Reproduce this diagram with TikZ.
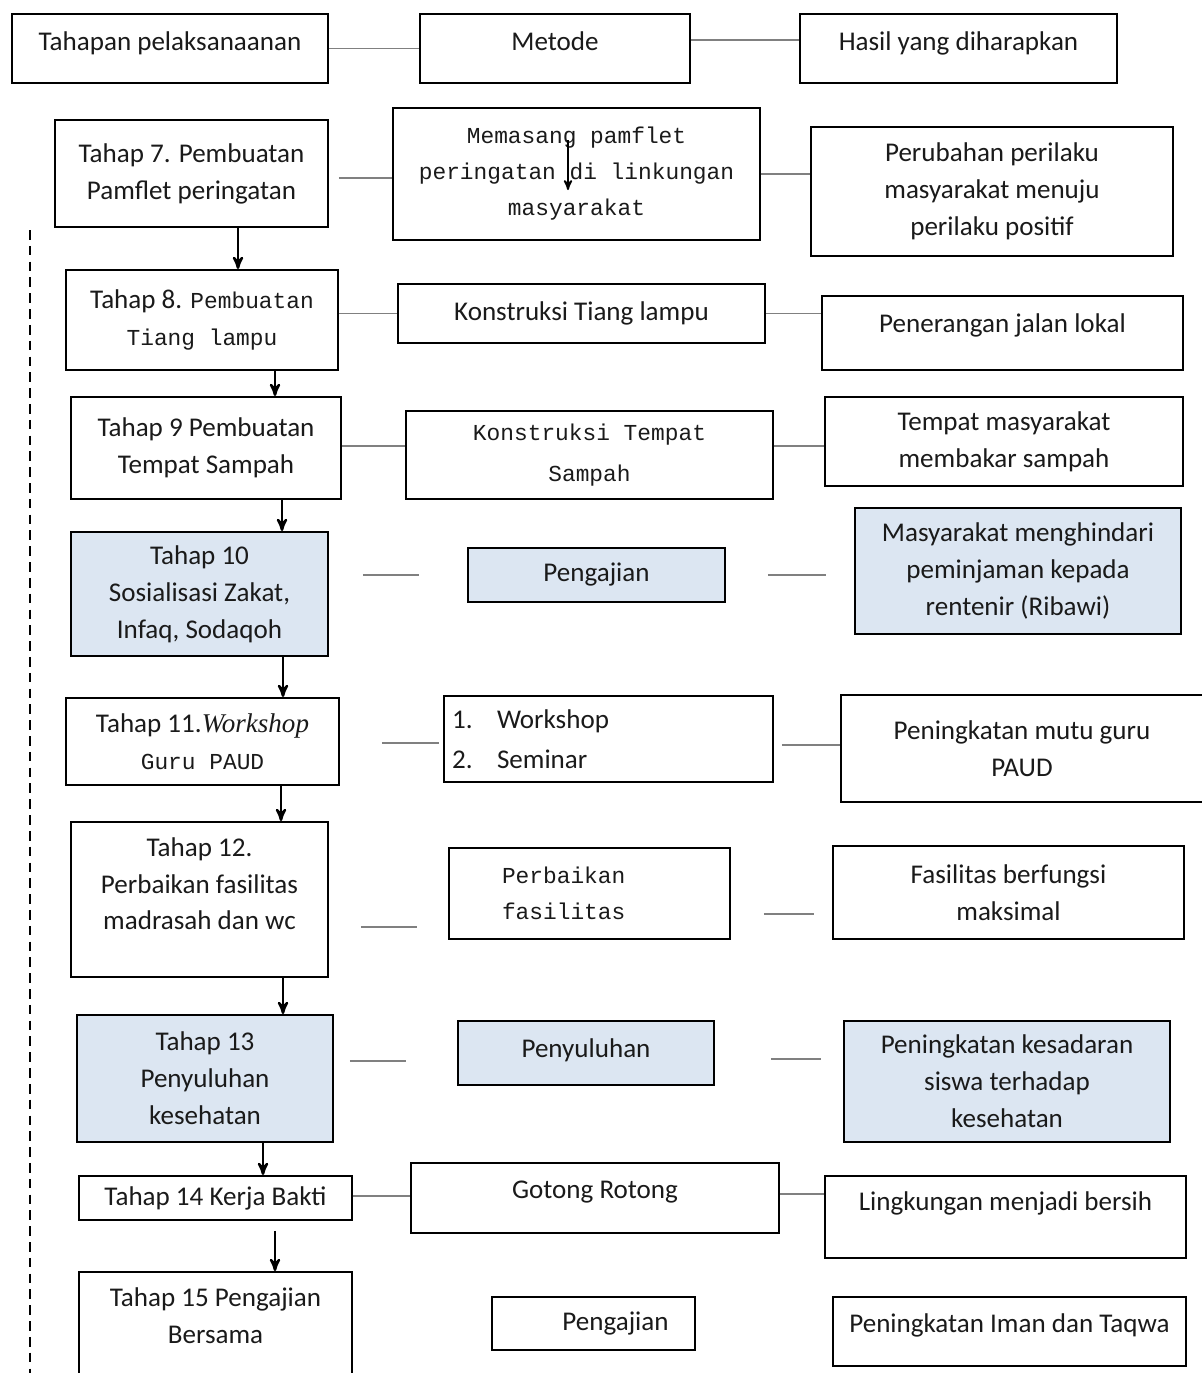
\documentclass[tikz,border=0pt]{standalone}
\usepackage{fontspec}
\setmainfont{Carlito}
\newfontfamily\monofont{Liberation Mono}
\newfontfamily\serifont{Liberation Serif}
\usepackage{tikz}
\usetikzlibrary{arrows}
\usetikzlibrary{positioning}
\usetikzlibrary{calc}
\definecolor{soft}{HTML}{DCE6F2}
\definecolor{ink}{HTML}{1A1A1A}
\newcommand{\mono}[1]{{\monofont\fontsize{13}{20.5}\selectfont #1}}
\tikzset{
  >=stealth',
  box/.style = {draw, line width=1.1pt, inner sep=2pt, align=center, text=ink,
                font=\fontsize{15.4}{21}\selectfont},
  tint/.style = {box, fill=soft},
  mono/.style = {font=\monofont\fontsize{13}{20.5}\selectfont},
  lift/.style = {text height=0.4cm, text depth=#1},
  link/.style = {draw=gray, line width=1pt},
  flow/.style = {->, line width=1.4pt},
}

\begin{document}
\begin{tikzpicture}[x=0.02cm, y=-0.02cm]
    \useasboundingbox (0,0) rectangle (1202,1373);
    % header
    \node [box, lift=0.34cm, minimum width=6.32cm, minimum height=1.38cm] (t0) at (170,48.5) {Tahapan pelaksanaanan};
    \node [box, lift=0.34cm, minimum width=5.40cm, minimum height=1.38cm] (m0) at (555,48.5) {Metode};
    \node [box, lift=0.34cm, minimum width=6.34cm, minimum height=1.38cm] (h0) at (958.5,48.5) {Hasil yang diharapkan};
    % tahap 7
    \node [box, minimum width=5.46cm, minimum height=2.14cm] (t7) at (191.5,173.5) {Tahap 7. Pembuatan\\Pamflet peringatan};
    \node [box, mono, minimum width=7.34cm, minimum height=2.64cm] (m7) at (576.5,174) {Memasang pamflet\\peringatan di linkungan\\masyarakat};
    \node [box, minimum width=7.24cm, minimum height=2.58cm] (h7) at (992,191.5) {Perubahan perilaku\\masyarakat menuju\\perilaku positif};
    % tahap 8
    \node [box, minimum width=5.44cm, minimum height=2.00cm] (t8) at (202,320) {Tahap 8. \mono{Pembuatan}\\\mono{Tiang lampu}};
    \node [box, minimum width=7.34cm, minimum height=1.18cm] (m8) at (581.5,313.5) {Konstruksi Tiang lampu};
    \node [box, lift=0.44cm, minimum width=7.22cm, minimum height=1.48cm] (h8) at (1002.5,333) {Penerangan jalan lokal};
    % tahap 9
    \node [box, minimum width=5.40cm, minimum height=2.04cm] (t9) at (206,448) {Tahap 9 Pembuatan\\Tempat Sampah};
    \node [box, mono, minimum width=7.34cm, minimum height=1.76cm] (m9) at (589.5,455) {Konstruksi Tempat\\[3pt]Sampah};
    \node [box, minimum width=7.16cm, minimum height=1.78cm] (h9) at (1004,441.5) {Tempat masyarakat\\membakar sampah};
    % tahap 10
    \node [tint, minimum width=5.14cm, minimum height=2.48cm] (t10) at (199.5,594) {Tahap 10\\Sosialisasi Zakat,\\Infaq, Sodaqoh};
    \node [tint, minimum width=5.14cm, minimum height=1.08cm] (m10) at (596.5,575) {Pengajian};
    \node [tint, minimum width=6.52cm, minimum height=2.52cm] (h10) at (1018,571) {Masyarakat menghindari\\peminjaman kepada\\rentenir (Ribawi)};
    % tahap 11
    \node [box, minimum width=5.46cm, minimum height=1.74cm] (t11) at (202.5,741.5) {Tahap 11.{\serifont\itshape Workshop}\\\mono{Guru PAUD}};
    \node [box, align=left, text width=6.26cm, minimum width=6.58cm, minimum height=1.72cm] (m11) at (608.5,739) {\makebox[0.9cm][l]{1.}Workshop\\[2pt]\makebox[0.9cm][l]{2.}Seminar};
    \node [box, minimum width=7.24cm, minimum height=2.14cm] (h11) at (1022,748.5) {Peningkatan mutu guru\\PAUD};
    % tahap 12
    \node [box, minimum width=5.14cm, minimum height=3.10cm] (t12) at (199.5,899.5) {Tahap 12.\\Perbaikan fasilitas\\madrasah dan wc\\[-3pt]~};
    \node [box, mono, align=left, text width=3.5cm, minimum width=5.62cm, minimum height=1.82cm] (m12) at (589.5,893.5) {Perbaikan\\fasilitas};
    \node [box, minimum width=7.02cm, minimum height=1.86cm] (h12) at (1008.5,892.5) {Fasilitas berfungsi\\maksimal};
    % tahap 13
    \node [tint, minimum width=5.12cm, minimum height=2.54cm] (t13) at (205,1078.5) {Tahap 13\\Penyuluhan\\kesehatan};
    \node [tint, lift=0.24cm, minimum width=5.12cm, minimum height=1.28cm] (m13) at (586,1053) {Penyuluhan};
    \node [tint, minimum width=6.52cm, minimum height=2.42cm] (h13) at (1007,1081.5) {Peningkatan kesadaran\\siswa terhadap\\kesehatan};
    % tahap 14
    \node [box, minimum width=5.46cm, minimum height=0.88cm] (t14) at (215.5,1198) {Tahap 14 Kerja Bakti};
    \node [box, lift=0.40cm, minimum width=7.36cm, minimum height=1.40cm] (m14) at (595,1198) {Gotong Rotong};
    \node [box, lift=0.68cm, minimum width=7.22cm, minimum height=1.64cm] (h14) at (1005.5,1217) {Lingkungan menjadi bersih};
    % tahap 15
    \node [box, minimum width=5.46cm, minimum height=2.36cm] (t15) at (215.5,1331) {Tahap 15 Pengajian\\Bersama\\[-3pt]~};
    \node [box, minimum width=4.06cm, minimum height=1.06cm] (m15) at (593.5,1323.5) {\hspace*{0.88cm}Pengajian};
    \node [box, lift=0.38cm, minimum width=7.06cm, minimum height=1.38cm] (h15) at (1009.5,1331.5) {Peningkatan Iman dan Taqwa};
    % garis penghubung
    \draw [link] (t0) -- (m0);
    \draw [link] ($(m0.east)+(0,-8.5)$) -- ($(m0.east -| h0.west)+(0,-8.5)$);
    \draw [link] ($(t7.east)+(10,4.5)$) -- ($(t7.east -| m7.west)+(0,4.5)$);
    \draw [link] (m7.east) -- (m7.east -| h7.west);
    \draw [link] (t8.east |- m8.west) -- (m8.west);
    \draw [link] (m8.east) -- (m8.east -| h8.west);
    \draw [link] ($(t9.east)+(0,-2)$) -- ($(t9.east -| m9.west)+(0,-2)$);
    \draw [link] ($(t9.east -| m9.east)+(0,-2)$) -- ($(t9.east -| h9.west)+(0,-2)$);
    \draw [link] ($(t10.east |- m10.west)+(34,0)$) -- ($(m10.west)+(-48,0)$);
    \draw [link] ($(m10.east)+(42,0)$) -- ($(m10.east -| h10.west)+(-28,0)$);
    \draw [link] ($(t11.east)+(42,1.5)$) -- ($(t11.east -| m11.west)+(-4,1.5)$);
    \draw [link] ($(m11.east |- t11.east)+(8,3.5)$) -- ($(t11.east -| h11.west)+(0,3.5)$);
    \draw [link] ($(t12.east)+(32,27.5)$) -- ($(t12.east -| m12.west)+(-31,27.5)$);
    \draw [link] ($(m12.east)+(33,20.5)$) -- ($(m12.east -| h12.west)+(-18,20.5)$);
    \draw [link] ($(t13.east)+(16,-17.5)$) -- ($(t13.east -| m13.west)+(-51,-17.5)$);
    \draw [link] ($(m13.east)+(56,6)$) -- ($(m13.east -| h13.west)+(-22,6)$);
    \draw [link] ($(t14.east)+(0,-2)$) -- ($(t14.east -| m14.west)+(0,-2)$);
    \draw [link] ($(m14.east)+(0,-4)$) -- ($(m14.east -| h14.west)+(0,-4)$);
    % panah tahap
    \draw [flow] ($(t7.south)+(46.5,0)$) -- ($(t8.north -| t7.south)+(46.5,0)$);
    \draw [flow] ($(t8.south)+(73,0)$) -- ($(t9.north -| t8.south)+(73,0)$);
    \draw [flow] ($(t9.south)+(76,0)$) -- ($(t10.north -| t9.south)+(76,0)$);
    \draw [flow] ($(t10.south)+(83.5,0)$) -- ($(t11.north -| t10.south)+(83.5,0)$);
    \draw [flow] ($(t11.south)+(78.5,0)$) -- ($(t12.north -| t11.south)+(78.5,0)$);
    \draw [flow] ($(t12.south)+(83.5,0)$) -- ($(t13.north -| t12.south)+(83.5,0)$);
    \draw [flow] ($(t13.south)+(58,0)$) -- ($(t14.north -| t13.south)+(58,0)$);
    \draw [flow] ($(t14.south)+(59.5,10)$) -- ($(t15.north -| t14.south)+(59.5,0)$);
    % panah di kotak metode dan garis putus-putus
    \coordinate (p1) at (568,140);
    \coordinate (p2) at (568,190);
    \draw [flow, line width=1pt] (p1) -- (p2);
    \coordinate (d1) at (30,230);
    \coordinate (d2) at (30,1373);
    \draw [line width=0.9pt, dash pattern=on 5.5pt off 3.5pt] (d1) -- (d2);
  \end{tikzpicture}
\end{document}
